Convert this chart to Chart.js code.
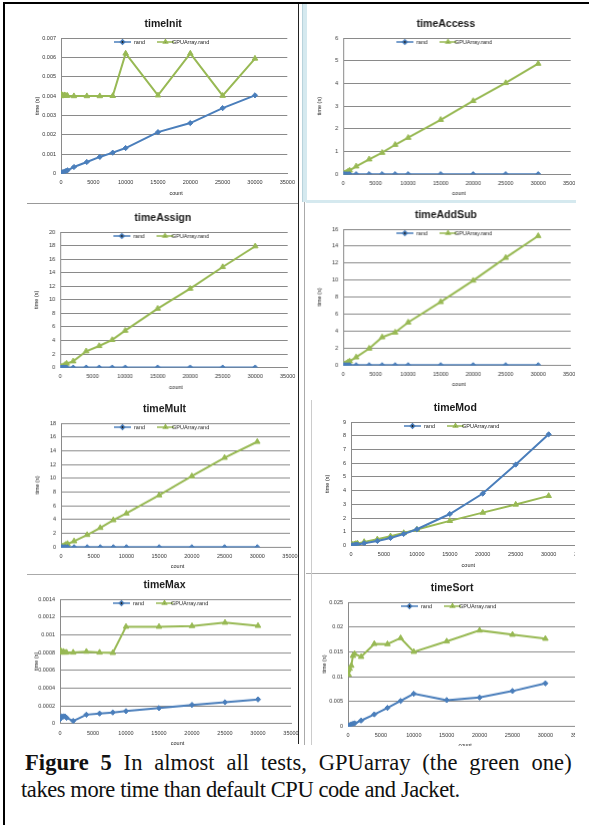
<!DOCTYPE html>
<html>
<head>
<meta charset="utf-8">
<script src="https://cdn.jsdelivr.net/npm/chart.js@4.4.1/dist/chart.umd.min.js"></script>
<style>
  html, body { margin: 0; padding: 0; background: #fff; }
  #page { position: relative; width: 589px; height: 825px; overflow: hidden; background: #fff; }
  .box { position: absolute; }
  .clip { position: absolute; overflow: hidden; }
  .rule { position: absolute; }
  .cap {
    position: absolute; white-space: nowrap;
    font-family: "Liberation Serif", serif; font-size: 22.5px; line-height: 27px; color: #111;
  }
</style>
</head>
<body>
<div id="page">
  <div class="rule" style="left:3px;top:2px;width:586px;height:2px;background:#000"></div>
  <div class="rule" style="left:3px;top:2px;width:2px;height:823px;background:#000"></div>
  <div class="rule" style="left:298px;top:4px;width:1px;height:740px;background:#222"></div>
  <div class="rule" style="left:302px;top:4px;width:4px;height:198px;background:#d5e9ef;border-left:1px solid #b9d3dc"></div>
  <div class="rule" style="left:304px;top:202px;width:1px;height:543px;background:#aaa"></div>
  <div class="rule" style="left:306px;top:200px;width:270px;height:3px;background:#d5e9ef"></div>
  <div class="rule" style="left:27px;top:203px;width:271px;height:1px;background:#999"></div>
  <div class="rule" style="left:27px;top:574px;width:271px;height:1px;background:#aaa"></div>
  <div class="rule" style="left:306px;top:573px;width:270px;height:1px;background:#aaa"></div>
  <div class="rule" style="left:311px;top:400px;width:1px;height:345px;background:#ccc"></div>

  <div class="box" id="b1"><canvas id="c1"></canvas></div>
  <div class="clip" style="left:306px;top:4px;width:269px;height:196px"><div class="box" id="b2"><canvas id="c2"></canvas></div></div>
  <div class="box" id="b3"><canvas id="c3"></canvas></div>
  <div class="clip" style="left:306px;top:203px;width:269px;height:192px"><div class="box" id="b4"><canvas id="c4"></canvas></div></div>
  <div class="box" id="b5"><canvas id="c5"></canvas></div>
  <div class="clip" style="left:312px;top:396px;width:263px;height:176px"><div class="box" id="b6"><canvas id="c6"></canvas></div></div>
  <div class="box" id="b7"><canvas id="c7"></canvas></div>
  <div class="clip" style="left:306px;top:574px;width:269px;height:172px"><div class="box" id="b8"><canvas id="c8"></canvas></div></div>

  <div class="cap" id="cap1" style="left:25px;top:749px"><b>Figure 5</b> In almost all tests, GPUarray (the green one)</div>
  <div class="cap" id="cap2" style="left:21px;top:776px">takes more time than default CPU code and Jacket.</div>
</div>

<script>
// problem sizes (x values), shared by every panel
const counts = [10, 100, 250, 500, 750, 1000, 2000, 4000, 6000, 8000, 10000, 15000, 20000, 25000, 30000];
const xTicks = [0, 5000, 10000, 15000, 20000, 25000, 30000, 35000];

// timeInit
const initRand = [0.00003, 0.00005, 0.00007, 0.0001, 0.00013, 0.00017, 0.00034, 0.0006, 0.00086, 0.00108, 0.00132, 0.00214, 0.00261, 0.00338, 0.00404];
const initGpu  = [0.004, 0.00408, 0.00402, 0.00405, 0.00403, 0.00402, 0.004, 0.004, 0.004, 0.00401, 0.0062, 0.00404, 0.0062, 0.00402, 0.00594];
// timeAccess
const accessRand = [0.001, 0.001, 0.002, 0.002, 0.003, 0.003, 0.004, 0.005, 0.005, 0.005, 0.005, 0.005, 0.005, 0.005, 0.005];
const accessGpu  = [0.003, 0.02, 0.04, 0.08, 0.12, 0.17, 0.35, 0.66, 0.95, 1.3, 1.61, 2.4, 3.23, 4.02, 4.87];
// timeAssign
const assignRand = [0.001, 0.002, 0.003, 0.004, 0.005, 0.006, 0.01, 0.01, 0.01, 0.01, 0.01, 0.01, 0.01, 0.01, 0.01];
const assignGpu  = [0.01, 0.05, 0.12, 0.25, 0.4, 0.6, 0.93, 2.41, 3.19, 4.08, 5.45, 8.7, 11.65, 14.84, 17.9];
// timeAddSub
const addSubRand = [0.001, 0.002, 0.003, 0.004, 0.005, 0.006, 0.01, 0.01, 0.01, 0.01, 0.01, 0.01, 0.01, 0.01, 0.01];
const addSubGpu  = [0.01, 0.05, 0.12, 0.24, 0.36, 0.47, 0.94, 1.97, 3.3, 3.86, 5.04, 7.44, 9.96, 12.64, 15.2];
// timeMult
const multRand = [0.001, 0.002, 0.003, 0.004, 0.005, 0.006, 0.01, 0.01, 0.01, 0.01, 0.01, 0.01, 0.01, 0.01, 0.01];
const multGpu  = [0.01, 0.05, 0.12, 0.25, 0.38, 0.5, 0.88, 1.8, 2.82, 3.94, 4.91, 7.54, 10.31, 12.99, 15.3];
// timeMod
const modRand = [0.003, 0.01, 0.02, 0.04, 0.06, 0.08, 0.17, 0.34, 0.56, 0.85, 1.19, 2.3, 3.79, 5.9, 8.1];
const modGpu  = [0.03, 0.05, 0.07, 0.1, 0.13, 0.15, 0.27, 0.46, 0.68, 0.92, 1.17, 1.8, 2.4, 2.99, 3.62];
// timeMax
const maxRand = [0.00005, 0.00007, 0.00008, 0.00008, 0.00008, 0.000065, 0.00003, 0.0001, 0.000113, 0.000125, 0.00014, 0.000174, 0.00021, 0.00024, 0.000272];
const maxGpu  = [0.0008, 0.00082, 0.0008, 0.00081, 0.0008, 0.0008, 0.0008, 0.00081, 0.0008, 0.000796, 0.00109, 0.00109, 0.001098, 0.001136, 0.0011];
// timeSort
const sortRand = [0.00005, 0.0001, 0.0002, 0.0004, 0.0005, 0.0006, 0.00115, 0.0024, 0.0037, 0.0051, 0.00655, 0.00527, 0.0058, 0.0071, 0.00865];
const sortGpu  = [0.0113, 0.0104, 0.0116, 0.0122, 0.0142, 0.0146, 0.014, 0.0166, 0.01655, 0.01777, 0.015, 0.0171, 0.0193, 0.01845, 0.01764];

const seriesNames = ['rand', 'GPUArray.rand'];

const BLUE = '#4a7ebb';
const GREEN = '#98b954';
const FONT = '"Liberation Sans", Arial, sans-serif';

const AXIS_W = 45;   // room left of the plot for ticks + y title
const AXIS_H = 26;   // room under the plot for ticks + x title
const PAD_TOP = 22;
const PAD_RIGHT = 15;

// caption is a justified paragraph: last line sets the letter spacing,
// first line gets a little extra tracking and the rest goes into word gaps
(function fitCaption() {
    const l1 = document.getElementById('cap1');
    const l2 = document.getElementById('cap2');
    const ls = (439 - l2.offsetWidth) / (l2.textContent.length - 1);
    l2.style.letterSpacing = ls + 'px';
    l1.style.letterSpacing = (ls + 0.5) + 'px';
    const gaps = l1.textContent.split(' ').length - 1;
    l1.style.wordSpacing = ((547 - l1.offsetWidth) / gaps) + 'px';
})();

// Excel-like title, inner legend and axis titles
const excelDecor = {
    id: 'excelDecor',
    afterDraw(chart, args, opts) {
        const ctx = chart.ctx;
        const a = chart.chartArea;
        ctx.save();
        ctx.fillStyle = '#1a1a1a';
        ctx.textAlign = 'center';
        ctx.textBaseline = 'middle';
        ctx.font = 'bold 10.5px ' + FONT;
        ctx.fillText(opts.title, (a.left + a.right) / 2 - 11, a.top - 13.5);

        ctx.font = '5.5px ' + FONT;
        ctx.fillText('count', (a.left + a.right) / 2 + 2, a.bottom + 19.5);
        ctx.save();
        ctx.translate(a.left - 24, (a.top + a.bottom) / 2);
        ctx.rotate(-Math.PI / 2);
        ctx.fillText('time (s)', 0, 0);
        ctx.restore();

        // legend sits inside the plot, just under the top gridline
        const ly = a.top + 4;
        const offs = [[0, 20], [43, 58]];
        chart.data.datasets.forEach((ds, i) => {
            const sx = a.left + 53 + offs[i][0];
            ctx.strokeStyle = ds.borderColor;
            ctx.lineWidth = 1.5;
            ctx.beginPath();
            ctx.moveTo(sx, ly);
            ctx.lineTo(sx + 17, ly);
            ctx.stroke();
            Chart.helpers.drawPoint(ctx, {
                pointStyle: ds.pointStyle, radius: 2.2, rotation: 0, borderWidth: 1
            }, sx + 8.5, ly);
            ctx.fillStyle = '#1a1a1a';
            ctx.textAlign = 'left';
            ctx.fillText(ds.label, a.left + 53 + offs[i][1], ly + 0.5);
        });
        ctx.restore();
    }
};

function fmt(v) {
    if (v === 0) return '0';
    return String(Number(v.toPrecision(8)));
}

function dataset(label, ys, color, style, r) {
    return {
        label: label,
        data: counts.map((x, i) => ({ x: x, y: ys[i] })),
        borderColor: color,
        backgroundColor: color,
        pointStyle: style,
        pointRadius: r,
        pointBorderWidth: 1,
        borderWidth: 2,
        showLine: true,
        tension: 0
    };
}

// plot = page coords of the plot area, parent = offset of the wrapping clip box
function makeChart(n, title, rand, gpu, yMax, yStep, plot, parent) {
    const box = document.getElementById('b' + n);
    const w = (plot.r - plot.l) + AXIS_W + PAD_RIGHT;
    const h = (plot.b - plot.t) + PAD_TOP + AXIS_H;
    box.style.left = (plot.l - AXIS_W - parent[0]) + 'px';
    box.style.top = (plot.t - PAD_TOP - parent[1]) + 'px';
    box.style.width = w + 'px';
    box.style.height = h + 'px';

    new Chart(document.getElementById('c' + n), {
        type: 'scatter',
        data: {
            datasets: [
                dataset(seriesNames[0], rand, BLUE, 'rectRot', 2.6),
                dataset(seriesNames[1], gpu, GREEN, 'triangle', 3.2)
            ]
        },
        options: {
            responsive: true,
            maintainAspectRatio: false,
            animation: false,
            layout: { padding: { top: PAD_TOP, right: PAD_RIGHT, left: 0, bottom: 0 } },
            scales: {
                x: {
                    type: 'linear',
                    min: 0,
                    max: 35000,
                    afterBuildTicks: s => { s.ticks = xTicks.map(v => ({ value: v })); },
                    afterFit: s => { s.height = AXIS_H; },
                    grid: { display: false, drawTicks: false },
                    border: { display: true, color: '#8a8a8a', width: 1 },
                    ticks: {
                        padding: 6, maxRotation: 0, autoSkip: false,
                        color: '#333', font: { family: FONT, size: 5.5 },
                        callback: v => String(v)
                    }
                },
                y: {
                    min: 0,
                    max: yMax,
                    ticks: {
                        stepSize: yStep, padding: 5,
                        color: '#333', font: { family: FONT, size: 5.5 },
                        callback: v => fmt(v)
                    },
                    afterFit: s => { s.width = AXIS_W; },
                    grid: { color: '#8a8a8a', lineWidth: 1, drawTicks: false },
                    border: { display: true, color: '#8a8a8a', width: 1 }
                }
            },
            plugins: {
                legend: { display: false },
                tooltip: { enabled: false },
                excelDecor: { title: title }
            }
        },
        plugins: [excelDecor]
    });
}

makeChart(1, 'timeInit', initRand, initGpu, 0.007, 0.001, { l: 61, t: 37.7, r: 287.3, b: 173.3 }, [0, 0]);
makeChart(2, 'timeAccess', accessRand, accessGpu, 6, 1, { l: 343.3, t: 37.7, r: 570, b: 174 }, [306, 4]);
makeChart(3, 'timeAssign', assignRand, assignGpu, 20, 2, { l: 60, t: 231.7, r: 286.7, b: 367.3 }, [0, 0]);
makeChart(4, 'timeAddSub', addSubRand, addSubGpu, 16, 2, { l: 343.3, t: 229.3, r: 570, b: 364.7 }, [306, 203]);
makeChart(5, 'timeMult', multRand, multGpu, 18, 2, { l: 61, t: 423.3, r: 290, b: 546.7 }, [0, 0]);
makeChart(6, 'timeMod', modRand, modGpu, 9, 1, { l: 350.7, t: 421.7, r: 581.3, b: 545.3 }, [312, 396]);
makeChart(7, 'timeMax', maxRand, maxGpu, 0.0014, 0.0002, { l: 60, t: 599.3, r: 291, b: 723 }, [0, 0]);
makeChart(8, 'timeSort', sortRand, sortGpu, 0.025, 0.005, { l: 347.7, t: 602.3, r: 578, b: 725.7 }, [306, 574]);
</script>
</body>
</html>
